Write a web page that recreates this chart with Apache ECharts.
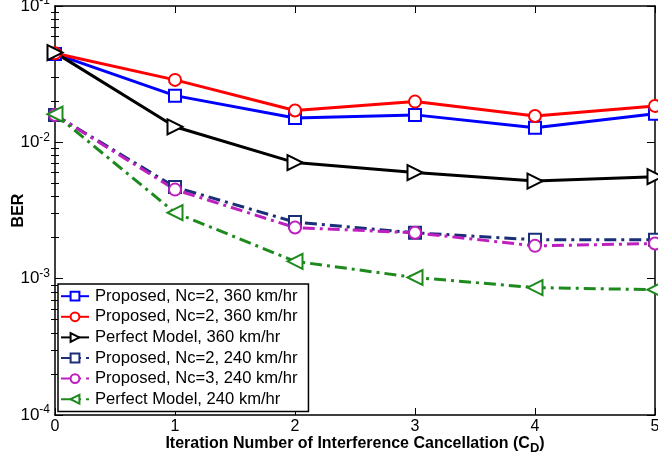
<!DOCTYPE html>
<html><head><meta charset="utf-8">
<script src="https://cdn.jsdelivr.net/npm/echarts@6/dist/echarts.min.js"></script>
<style>html,body{margin:0;padding:0;background:#fff}#c{width:658px;height:462px}</style>
</head><body><div id="c"></div>
<script>
var iterations = [0, 1, 2, 3, 4, 5];
var seriesNames = ['Proposed, Nc=2, 360 km/hr','Proposed, Nc=2, 360 km/hr ','Perfect Model, 360 km/hr','Proposed, Nc=2, 240 km/hr','Proposed, Nc=3, 240 km/hr','Perfect Model, 240 km/hr'];
var prop2_360 = [0.0445, 0.0220, 0.0151, 0.0159, 0.0128, 0.0162];
var prop2b_360 = [0.0450, 0.0287, 0.0171, 0.0199, 0.0156, 0.0185];
var perfect_360 = [0.0455, 0.0130, 0.0071, 0.0060, 0.0052, 0.0056];
var prop2_240 = [0.0159, 0.0047, 0.0026, 0.00217, 0.00193, 0.00193];
var prop3_240 = [0.0159, 0.0045, 0.00237, 0.00217, 0.00174, 0.00181];
var perfect_240 = [0.0161, 0.00305, 0.00134, 0.00102, 0.00086, 0.00083];
var minorTicks = [];
[1e-4,1e-3,1e-2].forEach(function(d){ for (var k=2;k<=9;k++) minorTicks.push(k*d); });

function pts(arr){ return iterations.map(function(x,i){ return [x, arr[i]]; }); }
var dashdot = [12, 5, 3, 5];
var chart = echarts.init(document.getElementById('c'));
function mk(name, data, color, symbol, rot, dashed){
  return {
    name: name, type: 'line', data: pts(data), xAxisIndex: 0, yAxisIndex: 0,
    symbol: symbol, symbolSize: symbol === 'emptyTriangle' ? 15 : 12, symbolRotate: rot,
    showAllSymbol: true,
    lineStyle: { color: color, width: 3, type: dashed ? dashdot : 'solid' },
    itemStyle: { color: color, borderColor: color, borderWidth: 2.5 },
    emphasis: { disabled: true }, animation: false
  };
}
var labelFont = 'Liberation Sans, Arial, Helvetica, sans-serif';
var yLabelRich = { b: { fontSize: 17, fontFamily: labelFont, color: '#000' }, s: { fontSize: 12, fontFamily: labelFont, color: '#000', padding: [0,0,10,0] } };
chart.setOption({
  animation: false,
  grid: { left: 55, right: 3, top: 6, bottom: 47, containLabel: false, outerBoundsMode: 'none' },
  xAxis: [
    { type: 'value', min: 0, max: 5, interval: 1, position: 'bottom',
      axisLine: { onZero: false, lineStyle: { color: '#000', width: 1.5 } },
      axisTick: { inside: true, length: 7, lineStyle: { color: '#000' } },
      axisLabel: { fontSize: 16, fontFamily: labelFont, color: '#000', margin: 4 },
      splitLine: { show: false },
      name: '{a|Iteration Number of Interference Cancellation (C}{sub|D}{a|)}',
      nameLocation: 'middle', nameGap: 18, nameMoveOverlap: false,
      nameTextStyle: { rich: { a: { fontSize: 16, fontWeight: 'bold', fontFamily: labelFont, color: '#000' }, sub: { fontSize: 13, fontWeight: 'bold', fontFamily: labelFont, color: '#000', padding: [9,0,0,0] } } }
    },
    { type: 'value', min: 0, max: 5, interval: 1, position: 'top',
      axisLine: { onZero: false, lineStyle: { color: '#000', width: 1.5 } },
      axisTick: { inside: true, length: 7, lineStyle: { color: '#000' } },
      axisLabel: { show: false }, splitLine: { show: false } }
  ],
  yAxis: [
    { type: 'log', min: 1e-4, max: 1e-1, logBase: 10, position: 'left',
      axisLine: { onZero: false, lineStyle: { color: '#000', width: 1.5 } },
      axisTick: { inside: true, length: 8, lineStyle: { color: '#000' } },
      axisLabel: { margin: 5, rich: yLabelRich, formatter: function(v){ var e = Math.round(Math.log10(v)); return '{b|10}{s|' + e + '}'; } },
      splitLine: { show: false },
      name: 'BER', nameLocation: 'middle', nameGap: 28, nameMoveOverlap: false,
      nameTextStyle: { fontSize: 16, fontWeight: 'bold', fontFamily: labelFont, color: '#000' }
    },
    { type: 'log', min: 1e-4, max: 1e-1, logBase: 10, position: 'left',
      axisLine: { show: false },
      axisTick: { inside: true, length: 4, customValues: minorTicks, lineStyle: { color: '#000' } },
      axisLabel: { show: false }, splitLine: { show: false } },
    { type: 'log', min: 1e-4, max: 1e-1, logBase: 10, position: 'right',
      axisLine: { onZero: false, lineStyle: { color: '#000', width: 1.5 } },
      axisTick: { inside: true, length: 8, lineStyle: { color: '#000' } },
      axisLabel: { show: false }, splitLine: { show: false } },
    { type: 'log', min: 1e-4, max: 1e-1, logBase: 10, position: 'right',
      axisLine: { show: false },
      axisTick: { inside: true, length: 4, customValues: minorTicks, lineStyle: { color: '#000' } },
      axisLabel: { show: false }, splitLine: { show: false } }
  ],
  legend: {
    orient: 'vertical', left: 58, top: 284, padding: [3, 11, 3, 2], itemGap: 2.2,
    itemWidth: 28, itemHeight: 11,
    backgroundColor: '#fff', borderColor: '#000', borderWidth: 1.5,
    textStyle: { fontSize: 16.6, lineHeight: 18.4, fontFamily: labelFont, color: '#000', padding: [0,0,0,1] },
    data: seriesNames,
    formatter: function(n){ return n.trim(); }
  },
  series: [
    mk(seriesNames[0], prop2_360, '#0000ff', 'emptyRect', 0, false),
    mk(seriesNames[1], prop2b_360, '#ff0000', 'emptyCircle', 0, false),
    mk(seriesNames[2], perfect_360, '#000000', 'emptyTriangle', -90, false),
    mk(seriesNames[3], prop2_240, '#1a2f78', 'emptyRect', 0, true),
    mk(seriesNames[4], prop3_240, '#bf1fbf', 'emptyCircle', 0, true),
    mk(seriesNames[5], perfect_240, '#1e8a1e', 'emptyTriangle', 90, true)
  ]
});
</script></body></html>
